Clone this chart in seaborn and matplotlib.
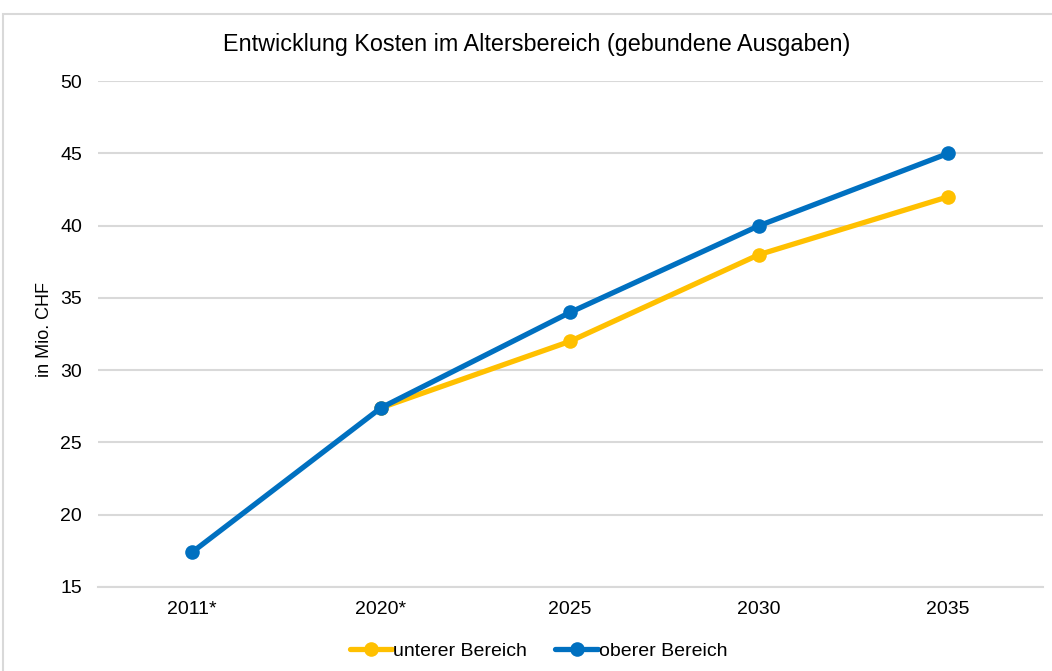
import numpy as np
import pandas as pd
import matplotlib
matplotlib.use("Agg")
import matplotlib.pyplot as plt
import seaborn as sns
from matplotlib.patches import Rectangle

# data
jahre = ["2011*", "2020*", "2025", "2030", "2035"]
unterer = [np.nan, 27.4, 32, 38, 42]
oberer = [17.4, 27.4, 34, 40, 45]

df = pd.DataFrame({
    "Jahr": jahre * 2,
    "Wert": unterer + oberer,
    "Serie": ["unterer Bereich"] * 5 + ["oberer Bereich"] * 5,
}).dropna()
df["pos"] = df["Jahr"].map({j: i for i, j in enumerate(jahre)})

sns.set_style("white")
plt.rcParams["font.family"] = ["Liberation Sans", "DejaVu Sans"]
plt.rcParams["text.color"] = "black"
plt.rcParams["xtick.color"] = "black"
plt.rcParams["ytick.color"] = "black"
plt.rcParams["axes.labelcolor"] = "black"

fig = plt.figure(figsize=(10.52, 6.71), dpi=100)
ax = fig.add_axes([0.0927, 0.1252, 0.8983, 0.7538])

farben = {"unterer Bereich": "#FFC000", "oberer Bereich": "#0070C0"}
sns.lineplot(data=df, x="pos", y="Wert", hue="Serie",
             hue_order=["unterer Bereich", "oberer Bereich"],
             palette=farben, marker="o", markersize=10.5, markeredgewidth=0,
             linewidth=3.8, ax=ax, legend=True)

ax.set_xlim(-0.5, len(jahre) - 0.5)
ax.set_xticks(range(len(jahre)))
ax.set_xticklabels(jahre, fontsize=14)
ax.set_ylim(15, 50)
ax.set_yticks(range(15, 51, 5))
ax.tick_params(axis="y", labelsize=14, length=0, pad=11)
ax.tick_params(axis="x", length=0, pad=10)
ax.yaxis.grid(True, color="#D9D9D9", linewidth=1.5)
ax.set_axisbelow(True)
for s in ["top", "right", "left"]:
    ax.spines[s].set_visible(False)
ax.spines["bottom"].set_color("#D9D9D9")
ax.spines["bottom"].set_linewidth(1.5)
ax.set_xlabel("")
ax.set_ylabel("in Mio. CHF", fontsize=13)
ax.yaxis.set_label_coords(-0.047, 0.51)

fig.text(0.51, 0.933, "Entwicklung Kosten im Altersbereich (gebundene Ausgaben)",
         ha="center", va="center", fontsize=16.8)

ax.legend(loc="center", bbox_to_anchor=(0.4667, -0.1265), ncol=2, frameon=False,
          fontsize=14, handlelength=2.2, handletextpad=0.05, columnspacing=1.45,
          markerscale=1.0)

# outer chart border
fig.patches.append(Rectangle((3 / 1052, -0.1), 1.2, 1.1 - 14 / 671,
                             transform=fig.transFigure, fill=False,
                             edgecolor="#D9D9D9", linewidth=1.5))

fig.savefig("out.png", dpi=100)
